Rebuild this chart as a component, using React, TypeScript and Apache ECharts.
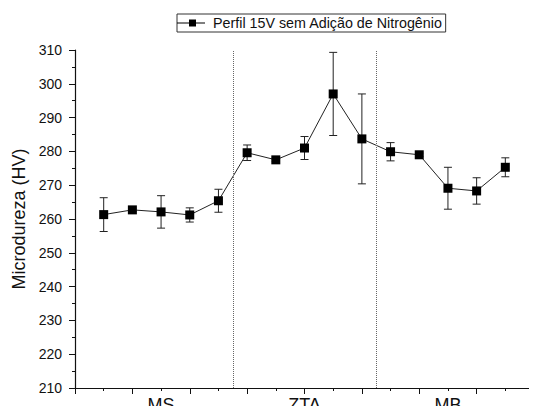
import React, { useEffect, useRef } from "react";
import * as echarts from "echarts";

// Measurement positions along the profile (1..15)
const positions = [1, 2, 3, 4, 5, 6, 7, 8, 9, 10, 11, 12, 13, 14, 15];
// Mean microhardness (HV)
const hardness = [261.3, 262.7, 262.1, 261.2, 265.4, 279.6, 277.5, 281.0, 297.0, 283.7, 279.9, 279.0, 269.1, 268.3, 275.3];
// Standard deviation (HV)
const deviation = [5.0, 0.5, 4.8, 2.1, 3.4, 2.3, 0.5, 3.4, 12.3, 13.3, 2.7, 0.5, 6.2, 3.9, 2.8];
// Region names and where they are centred / separated
const regionLabels = ["MS", "ZTA", "MB"];
const regionCenters = [3, 8, 13];
const regionBoundaries = [5.5, 10.5];

const seriesName = "Perfil 15V sem Adição de Nitrogênio";
const yTitle = "Microdureza (HV)";

// Legend glyph: a short line with a small filled square in its middle
const legendIcon = "path://M0,3H12V0H19V3H28V4H19V7H12V4H0Z";

export default function App() {
  const ref = useRef<HTMLDivElement>(null);

  useEffect(() => {
    if (!ref.current) return;
    const chart = echarts.init(ref.current, null, { renderer: "svg" });
    const font = "Liberation Sans, Arial, sans-serif";
    const ink = "#111";

    const points = positions.map((x, i) => [x, hardness[i]]);
    const bars = positions.map((x, i) => [x, hardness[i] - deviation[i], hardness[i] + deviation[i]]);

    chart.setOption({
      animation: false,
      backgroundColor: "#fff",
      textStyle: { fontFamily: font },
      grid: { left: 75, top: 50, width: 469, height: 339 },
      legend: {
        data: [{ name: seriesName, icon: legendIcon }],
        left: 177,
        top: 14,
        itemWidth: 28,
        itemHeight: 7,
        padding: [2, 3, 2, 0],
        borderColor: "#333",
        borderWidth: 1,
        itemStyle: { color: "#000" },
        textStyle: { fontSize: 14.3, color: ink, fontFamily: font, padding: [0, 0, 0, 3] },
      },
      xAxis: [
        {
          type: "value",
          min: 0,
          max: 16,
          interval: 1,
          axisLine: { lineStyle: { color: ink, width: 1.2 } },
          axisTick: { length: 3, lineStyle: { color: ink } },
          splitLine: { show: false },
          axisLabel: {
            fontSize: 18,
            color: ink,
            margin: 8,
            formatter: (v: number) => {
              const k = regionCenters.indexOf(v);
              return k >= 0 ? regionLabels[k] : "";
            },
          },
        },
        {
          type: "value",
          position: "bottom",
          min: 0,
          max: 16,
          interval: 2,
          axisLine: { show: false },
          axisTick: { length: 6, lineStyle: { color: ink } },
          axisLabel: { show: false },
          splitLine: { show: false },
        },
      ],
      yAxis: {
        type: "value",
        min: 210,
        max: 310,
        interval: 10,
        name: yTitle,
        nameLocation: "middle",
        nameGap: 45,
        nameTextStyle: { fontSize: 18, color: ink },
        axisLine: { show: true, lineStyle: { color: ink, width: 1.2 } },
        axisTick: { length: 6, lineStyle: { color: ink } },
        minorTick: { show: true, splitNumber: 2, length: 3, lineStyle: { color: ink } },
        splitLine: { show: false },
        minorSplitLine: { show: false },
        axisLabel: { fontSize: 14, color: ink, margin: 13 },
      },
      series: [
        {
          type: "custom",
          name: "desvio",
          z: 1,
          silent: true,
          data: bars,
          renderItem: (_params: any, api: any) => {
            const x = api.value(0);
            const lo = api.coord([x, api.value(1)]);
            const hi = api.coord([x, api.value(2)]);
            const cap = 4;
            const style = { stroke: "#222", lineWidth: 1 };
            return {
              type: "group",
              children: [
                { type: "line", shape: { x1: lo[0], y1: lo[1], x2: hi[0], y2: hi[1] }, style },
                { type: "line", shape: { x1: hi[0] - cap, y1: hi[1], x2: hi[0] + cap, y2: hi[1] }, style },
                { type: "line", shape: { x1: lo[0] - cap, y1: lo[1], x2: lo[0] + cap, y2: lo[1] }, style },
              ],
            };
          },
        },
        {
          type: "line",
          name: seriesName,
          z: 3,
          data: points,
          symbol: "rect",
          symbolSize: 9,
          itemStyle: { color: "#000" },
          lineStyle: { color: "#222", width: 1 },
          markLine: {
            silent: true,
            symbol: "none",
            label: { show: false },
            lineStyle: { color: "#666", type: "dotted", width: 1 },
            data: regionBoundaries.map((b) => ({ xAxis: b })),
          },
        },
      ],
    });

    return () => chart.dispose();
  }, []);

  return <div ref={ref} style={{ width: 537, height: 414, margin: -8 }} />;
}
